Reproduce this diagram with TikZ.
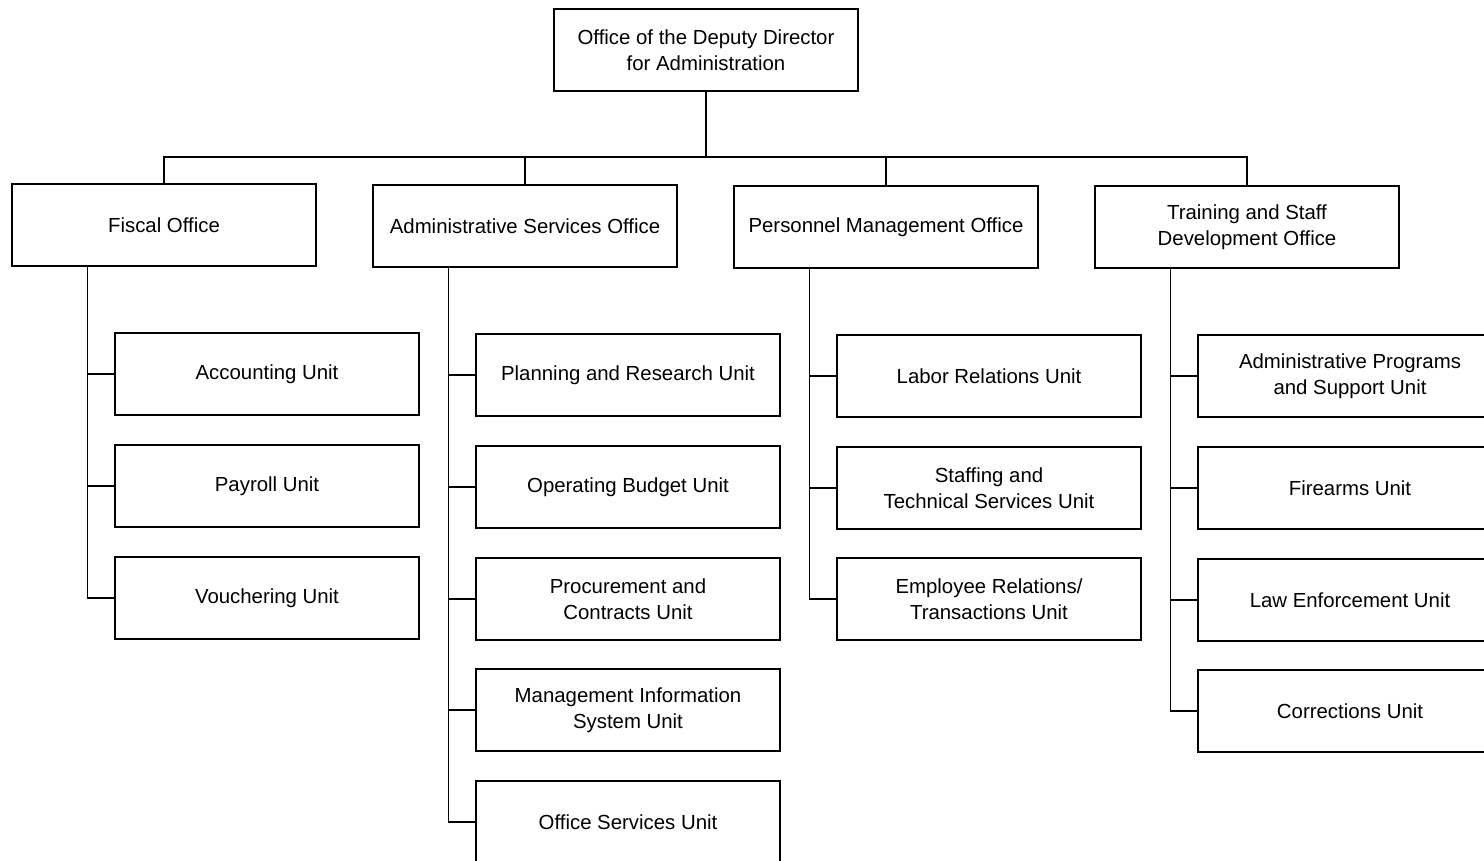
\documentclass[tikz,border=0pt]{standalone}
\usepackage{fontspec}
\setmainfont{Liberation Sans}
\usetikzlibrary{positioning}
\tikzstyle{office}=[draw, line width=0.8pt, minimum width=6.08cm, minimum height=1.64cm, inner sep=0pt, align=center, font=\fontsize{11.6}{14.6}\selectfont]
\tikzstyle{unit}=[office]
\tikzstyle{link}=[line width=0.8pt]
\begin{document}
\begin{tikzpicture}[x=0.02cm, y=-0.02cm]
        \useasboundingbox (0,0) rectangle (1484,860);
        \clip (0,0) rectangle (1484,860);

        % Direzione
        \node[office] (dda) at (706,50) {Office of the Deputy Director\\for Administration};
        \coordinate (bus) at (706,157);

        % Uffici
        \node[office] (fiscal) at (164,225) {Fiscal Office};
        \node[office] (admsvc) at (525,226) {Administrative Services Office};
        \node[office] (personnel) at (886,227) {Personnel Management Office};
        \node[office] (training) at (1247,227) {Training and Staff\\Development Office};

        \draw[link] (dda.south) -- (bus);
        \draw[link] (fiscal.north) |- (bus) -| (training.north);
        \draw[link] (admsvc.north) -- (admsvc.north |- bus);
        \draw[link] (personnel.north) -- (personnel.north |- bus);

        % Fiscal Office
        \node[unit] (acct) at (267,374) {Accounting Unit};
        \node[unit] (payroll) at (267,486) {Payroll Unit};
        \node[unit] (vouch) at (267,598) {Vouchering Unit};
        \draw[link] ([xshift=1.52cm]fiscal.south west) |- (vouch.west);
        \foreach \u in {acct,payroll}
            \draw[link] (\u.west) -- ++(-27,0);

        % Administrative Services Office
        \node[unit] (plan) at (628,375) {Planning and Research Unit};
        \node[unit] (budget) at (628,487) {Operating Budget Unit};
        \node[unit] (procure) at (628,599) {Procurement and\\Contracts Unit};
        \node[unit] (mis) at (628,710) {Management Information\\System Unit};
        \node[unit] (offsvc) at (628,822) {Office Services Unit};
        \draw[link] ([xshift=1.52cm]admsvc.south west) |- (offsvc.west);
        \foreach \u in {plan,budget,procure,mis}
            \draw[link] (\u.west) -- ++(-27,0);

        % Personnel Management Office
        \node[unit] (labor) at (989,376) {Labor Relations Unit};
        \node[unit] (staffing) at (989,488) {Staffing and\\Technical Services Unit};
        \node[unit] (employee) at (989,599) {Employee Relations/\\Transactions Unit};
        \draw[link] ([xshift=1.52cm]personnel.south west) |- (employee.west);
        \foreach \u in {labor,staffing}
            \draw[link] (\u.west) -- ++(-27,0);

        % Training and Staff Development Office
        \node[unit] (adminprog) at (1350,376) {Administrative Programs\\and Support Unit};
        \node[unit] (firearms) at (1350,488) {Firearms Unit};
        \node[unit] (lawenf) at (1350,600) {Law Enforcement Unit};
        \node[unit] (correct) at (1350,711) {Corrections Unit};
        \draw[link] ([xshift=1.52cm]training.south west) |- (correct.west);
        \foreach \u in {adminprog,firearms,lawenf}
            \draw[link] (\u.west) -- ++(-27,0);
    \end{tikzpicture}
\end{document}
